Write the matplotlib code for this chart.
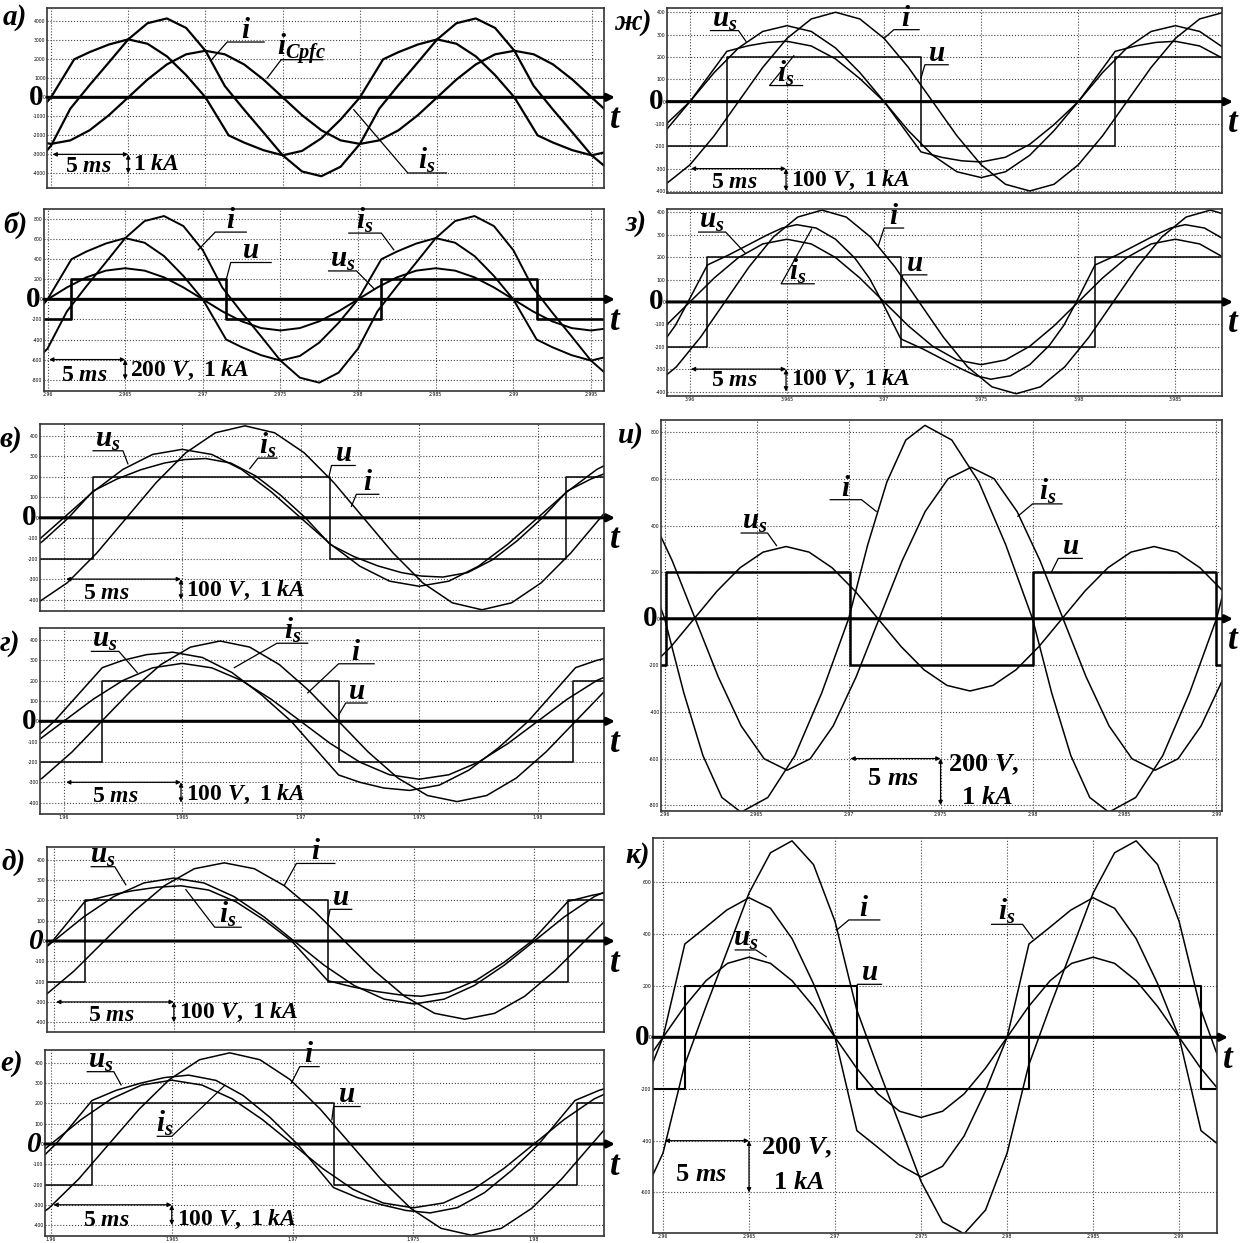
# -*- coding: utf-8 -*-

import numpy as np
import matplotlib
matplotlib.use("Agg")
from matplotlib import pyplot as plt
from matplotlib import transforms

plt.rcParams["font.family"] = ["DejaVu Sans"]
plt.rcParams["mathtext.fontset"] = "custom"
plt.rcParams["mathtext.it"] = "Liberation Serif:italic:bold"
plt.rcParams["mathtext.rm"] = "Liberation Serif:bold"
plt.rcParams["mathtext.bf"] = "Liberation Serif:bold"

SERIF = "Liberation Serif"
W, H = 1242, 1243
STEP = 1.25  # ms between samples

# ---------------- а) ----------------
a_ic_t0 = -1.25
a_icpfc = [-2264, -2450, -2264, -1732, -938, 0, 938, 1732, 2264, 2450, 2264, 1732, 938, 0, -938, -1732,
           -2264, -2450, -2264, -1732, -938, 0, 938, 1732, 2264, 2450, 2264, 1732, 938, 0, -938]
a_is_t = [-1.25, 0, 1.5, 2.5, 3.75, 5, 6.25, 7.5, 8.75, 10, 11.5, 12.5, 13.75, 15, 16.25, 17.5, 18.75, 20,
          21.5, 22.5, 23.75, 25, 26.25, 27.5, 28.75, 30, 31.5, 32.5, 33.75, 35, 36.25]
a_is = [-1167, 0, 2000, 2380, 2780, 3050, 2818, 2157, 1167, 0, -2000, -2380, -2780, -3050, -2818, -2157,
        -1167, 0, 2000, 2380, 2780, 3050, 2818, 2157, 1167, 0, -2000, -2380, -2780, -3050, -2818]
a_i_t0 = -1.25
a_i = [-3700, -2550, -597, 648, 1842, 3050, 3900, 4150, 3650, 2450, 597, -648, -1842, -3050, -3900, -4150,
       -3650, -2450, -597, 648, 1842, 3050, 3900, 4150, 3650, 2450, 597, -648, -1842, -3050, -3900]
a_yt = [-4000, -3000, -2000, -1000, 0, 1000, 2000, 3000, 4000]

# ---------------- б) ----------------
b_is_t = [-1.25, 0, 1.54, 2.5, 3.75, 5, 6.25, 7.5, 8.75, 10, 11.5, 12.5, 13.75, 15, 16.25, 17.5, 18.75, 20,
          21.5, 22.5, 23.75, 25, 26.25, 27.5, 28.75, 30, 31.5, 32.5, 33.75, 35, 36.25]
b_is = [-233, 0, 400, 476, 556, 610, 564, 431, 233, 0, -400, -476, -556, -610, -564, -431, -233, 0, 400,
        476, 556, 610, 564, 431, 233, 0, -400, -476, -556, -610, -564]
b_i_t0 = -1.25
b_i = [-686, -490, -119, 130, 368, 610, 780, 830, 730, 490, 119, -130, -368, -610, -780, -830, -730, -490,
       -119, 130, 368, 610, 780, 830, 730, 490, 119, -130, -368, -610, -780]
b_us_t0 = -1.25
b_us = [-119, 0, 119, 219, 286, 310, 286, 219, 119, 0, -119, -219, -286, -310, -286, -219, -119, 0, 119,
        219, 286, 310, 286, 219, 119, 0, -119, -219, -286, -310, -286]
b_u_t = [-1, 1.54, 11.5, 21.5, 31.5, 37]
b_u = [-200, 200, -200, 200, -200, -200]
b_yt = [-800, -600, -400, -200, 0, 200, 400, 600, 800]
b_xlab = ["2.96", "2.965", "2.97", "2.975", "2.98", "2.985", "2.99", "2.995"]

# ---------------- в) ----------------
v_us_t0 = -1.25
v_us = [-128, 0, 128, 237, 310, 335, 310, 237, 128, 0, -128, -237, -310, -335, -310, -237, -128, 0, 128,
        237, 310]
v_i_t0 = -1.1
v_i = [-416, -318, -172, 0, 172, 318, 416, 450, 416, 318, 172, 0, -172, -318, -416, -450, -416, -318,
       -172, 0, 172]
v_is_t = [-1.9, -0.85, 0.2, 1.24, 2.25, 3.25, 4.25, 5.1, 6.0, 7.05, 8.1, 9.15, 10.2, 11.25, 12.25, 13.25,
          14.25, 15.1, 16.0, 17.05, 18.1, 19.15, 20.2, 21.25, 22.25, 23.25]
v_is = [-205, -111, 0, 131, 190, 235, 268, 285, 290, 268, 205, 111, 0, -131, -190, -235, -268, -285, -290,
        -268, -205, -111, 0, 131, 190, 235]
v_u_t = [-2, 1.24, 11.25, 21.2, 24]
v_u = [-200, 200, -200, 200, 200]

# ---------------- г) ----------------
g_us_t0 = -1.25
g_us = [-109, 0, 109, 201, 263, 285, 263, 201, 109, 0, -109, -201, -263, -285, -263, -201, -109, 0, 109,
        201, 263]
g_i_t0 = -2.15
g_i = [-365, -279, -151, 0, 151, 279, 365, 395, 365, 279, 151, 0, -151, -279, -365, -395, -365, -279,
       -151, 0, 151]
g_is_t = [-4.15, -2.9, -1.65, -0.4, 1.63, 2.5, 3.5, 4.6, 5.85, 7.1, 8.35, 9.6, 11.6, 12.5, 13.5, 14.6,
          15.85, 17.1, 18.35, 19.6, 21.6, 22.5, 23.5]
g_is = [-314, -240, -130, 0, 264, 300, 328, 340, 314, 240, 130, 0, -264, -300, -328, -340, -314, -240,
        -130, 0, 264, 300, 328]
g_u_t = [-2, 1.63, 11.6, 21.5, 24]
g_u = [-200, 200, -200, 200, 200]
g_xlab = ["1.96", "1.965", "1.97", "1.975", "1.98"]

# ---------------- д) ----------------
d_us_t0 = -1.25
d_us = [-119, 0, 119, 219, 286, 310, 286, 219, 119, 0, -119, -219, -286, -310, -286, -219, -119, 0, 119,
        219, 286]
d_i_t0 = -0.4
d_i = [-272, -147, 0, 147, 272, 356, 385, 356, 272, 147, 0, -147, -272, -356, -385, -356, -272, -147, 0,
       147]
d_is_t = [-1.15, -0.05, 1.3, 2.3, 3.3, 4.3, 5.3, 6.45, 7.6, 8.75, 9.9, 11.4, 12.4, 13.4, 14.4, 15.3,
          16.45, 17.6, 18.75, 19.9, 21.4, 22.4, 23.4]
d_is = [-104, 0, 195, 225, 248, 265, 272, 251, 192, 104, 0, -195, -225, -248, -265, -272, -251, -192,
        -104, 0, 195, 225, 248]
d_u_t = [-2, 1.3, 11.4, 21.4, 24]
d_u = [-200, 200, -200, 200, 200]

# ---------------- е) ----------------
e_us_t0 = -1.25
e_us = [-121, 0, 121, 223, 291, 315, 291, 223, 121, 0, -121, -223, -291, -315, -291, -223, -121, 0, 121,
        223, 291]
e_i_t0 = -1.35
e_i = [-416, -318, -172, 0, 172, 318, 416, 450, 416, 318, 172, 0, -172, -318, -416, -450, -416, -318,
       -172, 0, 172]
e_is_t = [-2.05, -0.92, 0.2, 1.7, 2.7, 3.7, 4.7, 5.7, 6.83, 7.95, 9.08, 10.2, 11.7, 12.7, 13.7, 14.7,
          15.7, 16.83, 17.95, 19.08, 20.2, 21.7, 22.7, 23.7]
e_is = [-240, -130, 0, 215, 265, 300, 328, 340, 314, 240, 130, 0, -215, -265, -300, -328, -340, -314,
        -240, -130, 0, 215, 265, 300]
e_u_t = [-2, 1.7, 11.7, 21.8, 24]
e_u = [-200, 200, -200, 200, 200]
e_xlab = ["1.96", "1.965", "1.97", "1.975", "1.98"]

vyt = [-400, -300, -200, -100, 0, 100, 200, 300, 400]

# ---------------- ж) ----------------
zh_us_t0 = -1.25
zh_us = [-130, 0, 130, 240, 314, 340, 314, 240, 130, 0, -130, -240, -314, -340, -314, -240, -130, 0, 130,
         240, 314, 340, 314, 240]
zh_i_t0 = -1.25
zh_i = [-370, -283, -153, 0, 153, 283, 370, 400, 370, 283, 153, 0, -153, -283, -370, -400, -370, -283,
        -153, 0, 153, 283, 370, 400]
zh_is_t = [-2.5, -1.25, 0, 1.9, 3, 4, 5, 6.25, 7.5, 8.75, 10, 11.9, 13, 14, 15, 16.25, 17.5, 18.75, 20,
           21.9, 23, 24, 25, 26.25, 27.5, 28.75]
zh_is = [-191, -103, 0, 225, 250, 265, 270, 249, 191, 103, 0, -225, -250, -265, -270, -249, -191, -103, 0,
         225, 250, 265, 270, 249, 191, 103]
zh_u_t = [-2, 1.92, 11.9, 21.9, 29]
zh_u = [-200, 200, -200, 200, 200]

# ---------------- з) ----------------
z_us_t0 = -1.25
z_us = [-107, 0, 107, 198, 259, 280, 259, 198, 107, 0, -107, -198, -259, -280, -259, -198, -107, 0, 107,
        198, 259, 280, 259, 198]
z_i_t0 = -1.95
z_i = [-379, -290, -157, 0, 157, 290, 379, 410, 379, 290, 157, 0, -157, -290, -379, -410, -379, -290,
       -157, 0, 157, 290, 379, 410, 379]
z_is_t = [-1.5, -0.75, -0.1, 0.9, 2.0, 3.0, 4.0, 4.75, 5.5, 6.5, 7.5, 8.5, 9.25, 9.9, 10.86, 12.0, 13.0,
          14.0, 14.75, 15.5, 16.5, 17.5, 18.5, 19.25, 19.9, 20.86, 22.0, 23.0, 24.0, 24.75, 25.5, 26.5,
          27.5, 28.5]
z_is = [-195, -105, 0, 165, 210, 255, 300, 330, 345, 330, 280, 195, 105, 0, -165, -210, -255, -300, -330,
        -345, -330, -280, -195, -105, 0, 165, 210, 255, 300, 330, 345, 330, 280, 195]
z_u_t = [-2, 0.9, 10.86, 20.86, 29]
z_u = [-200, 200, -200, 200, 200]
z_xlab = ["3.96", "3.965", "3.97", "3.975", "3.98", "3.985"]

# ---------------- и) ----------------
ii_us_t0 = -0.9
ii_us = [-219, -119, 0, 119, 219, 286, 310, 286, 219, 119, 0, -119, -219, -286, -310, -286, -219, -119, 0,
         119, 219, 286, 310, 286, 219, 119]
ii_is_t0 = -0.84
ii_is = [460, 249, 0, -249, -460, -601, -650, -601, -460, -249, 0, 249, 460, 601, 650, 601, 460, 249, 0,
         -249, -460, -601, -650, -601, -460, -249]
ii_i_t = [-1.46, 0, 1.04, 2.08, 3.11, 4.15, 5.61, 7.08, 8.54, 10, 11.04, 12.08, 13.11, 14.15, 15.61,
          17.08, 18.54, 20, 21.04, 22.08, 23.11, 24.15, 25.61, 27.08, 28.54, 30, 31.04]
ii_i = [318, 0, -318, -587, -767, -830, -767, -587, -318, 0, 318, 587, 767, 830, 767, 587, 318, 0, -318,
        -587, -767, -830, -767, -587, -318, 0, 318]
ii_u_t = [-1, 0.05, 10.06, 20.0, 30.0, 31]
ii_u = [-200, 200, -200, 200, -200, -200]
ii_yt = [-800, -600, -400, -200, 0, 200, 400, 600, 800]
ii_xlab = ["2.96", "2.965", "2.97", "2.975", "2.98", "2.985", "2.99"]

# ---------------- к) ----------------
k_us_t0 = -1.25
k_us = [-119, 0, 119, 219, 286, 310, 286, 219, 119, 0, -119, -219, -286, -310, -286, -219, -119, 0, 119,
        219, 286, 310, 286, 219, 119, 0, -119, -219]
k_i_t0 = -1.25
k_i = [-628, -448, -109, 119, 337, 558, 714, 760, 668, 448, 109, -119, -337, -558, -714, -760, -668, -448,
       -109, 119, 337, 558, 714, 760, 668, 448, 109, -119]
k_is_t = [-1.25, 0, 1.27, 2.4, 3.7, 5, 6.25, 7.5, 8.75, 10, 11.27, 12.4, 13.7, 15, 16.25, 17.5, 18.75, 20,
          21.27, 22.4, 23.7, 25, 26.25, 27.5, 28.75, 30, 31.27, 32.4]
k_is = [-207, 0, 361, 421, 492, 540, 499, 382, 207, 0, -361, -421, -492, -540, -499, -382, -207, 0, 361,
        421, 492, 540, 499, 382, 207, 0, -361, -421]
k_u_t = [-1, 1.27, 11.27, 21.25, 31.25, 33]
k_u = [-200, 200, -200, 200, -200, -200]
k_yt = [-600, -400, -200, 0, 200, 400, 600]
k_xlab = ["2.96", "2.965", "2.97", "2.975", "2.98", "2.985", "2.99"]

fig = plt.figure(figsize=(W / 100, H / 100), dpi=100)


def sampled(t0, vals):
    return t0 + STEP * np.arange(len(vals)), vals


def frame(box, xlim, ylim, yticks, xlabels, letter, letter_xy, zero_style="normal"):
    x0, x1, y0, y1 = box
    ax = fig.add_axes([x0 / W, 1 - y1 / H, (x1 - x0) / W, (y1 - y0) / H])
    ax.set_xlim(xlim)
    ax.set_ylim(ylim)
    xt = np.arange(0, xlim[1], 5)
    ax.set_xticks(xt)
    ax.set_xticklabels(xlabels[:len(xt)] if xlabels else [])
    ax.set_yticks(yticks)
    ax.set_yticklabels([str(y) for y in yticks])
    ax.tick_params(length=0, labelsize=3.3, pad=1.0)
    ax.grid(True, ls=":", lw=0.8, color="#444444")
    for sp in ax.spines.values():
        sp.set_lw(1.2)
        sp.set_color("#333333")
    bt = transforms.blended_transform_factory(ax.transAxes, ax.transData)
    ax.annotate("", xy=(1 + 11 / (x1 - x0), 0), xycoords=bt, xytext=(0, 0), textcoords=bt,
                arrowprops=dict(arrowstyle="-|>", lw=2.2, color="black", mutation_scale=11,
                                shrinkA=0, shrinkB=0), annotation_clip=False)
    ax.text(-0.006, 0, "0", transform=bt, ha="right", va="center", fontsize=21,
            family=SERIF, weight="bold", style=zero_style)
    ax.annotate("t", xy=(1, 0), xycoords=bt, xytext=(8, -4), textcoords="offset points",
                ha="center", va="top", fontsize=25, family=SERIF, style="italic", weight="bold")
    fig.text(letter_xy[0] / W, 1 - letter_xy[1] / H, letter, ha="left", va="top", fontsize=21,
             family=SERIF, style="italic", weight="bold")
    return ax


def trace(ax, t, v, lw=1.1):
    ax.plot(t, v, color="black", lw=lw, solid_joinstyle="round")


def square(ax, t, v, lw=1.1):
    ax.plot(t, v, color="black", lw=lw, drawstyle="steps-post")


def tag(ax, txt, pts, fs=21):
    xs, ys = zip(*pts)
    ax.plot(xs, ys, color="black", lw=0.9, clip_on=False)
    ax.annotate(txt, xy=((pts[0][0] + pts[1][0]) / 2, pts[0][1]), xytext=(0, 3),
                textcoords="offset points", ha="center", va="baseline", fontsize=fs,
                annotation_clip=False)


def scale(ax, t0, t1, v0, v1, ms_xy, units, fs=17):
    arrow = dict(arrowstyle="<|-|>", lw=0.9, color="black", mutation_scale=6, shrinkA=0, shrinkB=0)
    ax.annotate("", xy=(t0, v0), xytext=(t1, v0), arrowprops=arrow)
    ax.annotate("", xy=(t1, v0), xytext=(t1, v1), arrowprops=arrow)
    ax.text(ms_xy[0], ms_xy[1], r"$5\ \mathit{ms}$", ha="center", va="center", fontsize=fs)
    for txt, x, y in units:
        ax.text(x, y, txt, ha="left", va="center", fontsize=fs)


UNITS1 = r"$100\ \mathit{V},\ 1\ \mathit{kA}$"

# а)
ax = frame((47, 604, 8, 188), (-0.26, 35.8), (-4770, 4700), a_yt, None, "а)", (3, 4))
trace(ax, *sampled(a_ic_t0, a_icpfc), lw=1.6)
trace(ax, a_is_t, a_is, lw=1.6)
trace(ax, *sampled(a_i_t0, a_i), lw=1.6)
tag(ax, r"$i$", [(13.8, 2910), (11.4, 2910), (10.4, 1980)])
tag(ax, r"$i_{Cpfc}$", [(17.6, 1980), (14.9, 1980), (14.0, 1020)])
tag(ax, r"$i_s$", [(25.6, -3980), (23.1, -3980), (19.6, -650)])
scale(ax, 0.1, 5.0, -3000, -4000, (2.4, -3560), [(r"$1\ \mathit{kA}$", 5.3, -3480)])

# б)
ax = frame((44, 604, 209, 391), (-0.23, 35.84), (-913, 900), b_yt, b_xlab, "б)", (3, 211))
trace(ax, *sampled(b_us_t0, b_us), lw=1.4)
trace(ax, b_is_t, b_is, lw=1.4)
trace(ax, *sampled(b_i_t0, b_i), lw=1.4)
square(ax, b_u_t, b_u, lw=1.9)
tag(ax, r"$i$", [(12.8, 670), (10.8, 670), (9.7, 493)])
tag(ax, r"$u$", [(14.4, 367), (11.8, 367), (11.5, 193)])
tag(ax, r"$i_s$", [(19.4, 660), (21.5, 660), (22.3, 493)])
tag(ax, r"$u_s$", [(18.1, 283), (19.9, 283), (21.0, 110)])
scale(ax, 0.1, 5.0, -600, -800, (2.4, -740), [(r"$200\ \mathit{V},\ 1\ \mathit{kA}$", 5.3, -700)])

# в)
ax = frame((40, 604, 424, 611), (-1.0, 22.8), (-456, 459), vyt, None, "в)", (0, 426))
trace(ax, *sampled(v_us_t0, v_us))
trace(ax, v_is_t, v_is)
trace(ax, *sampled(v_i_t0, v_i))
square(ax, v_u_t, v_u)
tag(ax, r"$u_s$", [(1.24, 328), (2.5, 328), (2.71, 264)])
tag(ax, r"$i_s$", [(9.0, 292), (8.2, 292), (7.85, 240)])
tag(ax, r"$u$", [(12.3, 256), (11.3, 256), (11.2, 205)])
tag(ax, r"$i$", [(13.3, 115), (12.35, 115), (12.14, 56)])
scale(ax, 0.1, 4.95, -300, -400, (1.8, -362), [(UNITS1, 5.15, -352)])

# г)
ax = frame((40, 604, 628, 814), (-1.0, 22.8), (-456, 459), vyt, g_xlab, "г)", (0, 630))
trace(ax, *sampled(g_us_t0, g_us))
trace(ax, g_is_t, g_is)
trace(ax, *sampled(g_i_t0, g_i))
square(ax, g_u_t, g_u)
tag(ax, r"$u_s$", [(1.17, 344), (2.33, 344), (3.1, 240)])
tag(ax, r"$i_s$", [(10.3, 384), (9.0, 384), (7.2, 264)])
tag(ax, r"$i$", [(13.1, 283), (11.6, 283), (10.3, 140)])
tag(ax, r"$u$", [(12.8, 90), (11.9, 90), (11.6, 30)])
scale(ax, 0.1, 4.95, -300, -400, (2.2, -362), [(UNITS1, 5.15, -360)])

# д)
ax = frame((47, 604, 847, 1032), (-0.28, 22.9), (-448, 463), vyt, None, "д)", (2, 849),
           zero_style="italic")
trace(ax, *sampled(d_us_t0, d_us))
trace(ax, d_is_t, d_is)
trace(ax, *sampled(d_i_t0, d_i))
square(ax, d_u_t, d_u)
tag(ax, r"$u_s$", [(1.56, 366), (2.54, 366), (3.0, 277)])
tag(ax, r"$i$", [(11.7, 382), (10.1, 382), (9.6, 275)])
tag(ax, r"$u$", [(12.4, 156), (11.5, 156), (11.4, 97)])
tag(ax, r"$i_s$", [(7.8, 68), (6.7, 68), (5.5, 253)])
scale(ax, 0.1, 5.0, -300, -400, (2.4, -357), [(UNITS1, 5.2, -350)])

# е)
ax = frame((45, 604, 1050, 1236), (-0.25, 22.9), (-454, 464), vyt, e_xlab, "е)", (0, 1050),
           zero_style="italic")
trace(ax, *sampled(e_us_t0, e_us))
trace(ax, e_is_t, e_is)
trace(ax, *sampled(e_i_t0, e_i))
square(ax, e_u_t, e_u)
tag(ax, r"$u_s$", [(1.5, 357), (2.6, 357), (2.9, 292)])
tag(ax, r"$i$", [(11.1, 382), (10.3, 382), (9.95, 300)])
tag(ax, r"$u$", [(12.8, 185), (11.7, 185), (11.63, 120)])
tag(ax, r"$i_s$", [(4.4, 38), (5.0, 38), (7.2, 290)])
scale(ax, 0.1, 5.0, -300, -400, (2.3, -370), [(UNITS1, 5.2, -370)])

# ж)
ax = frame((667, 1222, 8, 193), (-1.18, 27.4), (-409, 419), vyt, None, "ж)", (614, 9))
trace(ax, *sampled(zh_us_t0, zh_us))
trace(ax, zh_is_t, zh_is)
trace(ax, *sampled(zh_i_t0, zh_i))
square(ax, zh_u_t, zh_u)
tag(ax, r"$u_s$", [(1.06, 318), (2.5, 318), (2.9, 268)])
tag(ax, r"$i$", [(11.8, 322), (10.5, 322), (10.0, 283)])
tag(ax, r"$u$", [(13.3, 165), (12.1, 165), (11.9, 106)])
tag(ax, r"$i_s$", [(5.8, 72), (4.1, 72), (5.35, 205)])
scale(ax, 0.05, 4.95, -300, -400, (2.3, -357), [(UNITS1, 5.2, -350)])

# з)
ax = frame((667, 1222, 209, 396), (-1.18, 27.4), (-420, 415), vyt, z_xlab, "з)", (626, 210))
trace(ax, *sampled(z_us_t0, z_us))
trace(ax, z_is_t, z_is)
trace(ax, *sampled(z_i_t0, z_i))
square(ax, z_u_t, z_u)
tag(ax, r"$u_s$", [(0.45, 312), (1.84, 312), (2.86, 217)])
tag(ax, r"$i$", [(11.0, 330), (10.0, 330), (9.7, 251)])
tag(ax, r"$u$", [(12.2, 121), (10.96, 121), (10.86, 69)])
tag(ax, r"$i_s$", [(6.4, 81), (4.7, 81), (6.27, 326)])
scale(ax, 0.05, 4.95, -300, -400, (2.3, -345), [(UNITS1, 5.2, -345)])

# и)
ax = frame((661, 1222, 420, 811), (-0.2, 30.3), (-825, 853), ii_yt, ii_xlab, "и)", (618, 422))
trace(ax, *sampled(ii_us_t0, ii_us))
trace(ax, *sampled(ii_is_t0, ii_is))
trace(ax, ii_i_t, ii_i)
square(ax, ii_u_t, ii_u, lw=1.8)
tag(ax, r"$u_s$", [(4.16, 368), (5.59, 368), (6.08, 314)])
tag(ax, r"$i$", [(9.0, 511), (10.7, 511), (11.5, 461)])
tag(ax, r"$i_s$", [(21.6, 493), (20.0, 493), (19.2, 440)])
tag(ax, r"$u$", [(22.7, 259), (21.4, 259), (21.05, 204)])
scale(ax, 10.1, 15.0, -600, -800, (12.4, -685),
      [(r"$200\ \mathit{V},$", 15.4, -625), (r"$1\ \mathit{kA}$", 16.1, -765)], fs=19)

# к)
ax = frame((653, 1217, 838, 1233), (-0.58, 32.2), (-757, 771), k_yt, k_xlab, "к)", (625, 842))
trace(ax, *sampled(k_us_t0, k_us))
trace(ax, k_is_t, k_is)
trace(ax, *sampled(k_i_t0, k_i))
square(ax, k_u_t, k_u, lw=1.5)
tag(ax, r"$i$", [(12.6, 454), (10.8, 454), (10.1, 415)])
tag(ax, r"$u_s$", [(4.2, 338), (5.4, 338), (6.0, 312)])
tag(ax, r"$u$", [(12.7, 205), (11.3, 205), (11.27, 151)])
tag(ax, r"$i_s$", [(19.1, 437), (20.9, 437), (21.5, 383)])
scale(ax, 0.1, 5.0, -400, -600, (2.2, -530),
      [(r"$200\ \mathit{V},$", 5.7, -425), (r"$1\ \mathit{kA}$", 6.4, -560)], fs=19)

fig.savefig("out.png", dpi=100)
